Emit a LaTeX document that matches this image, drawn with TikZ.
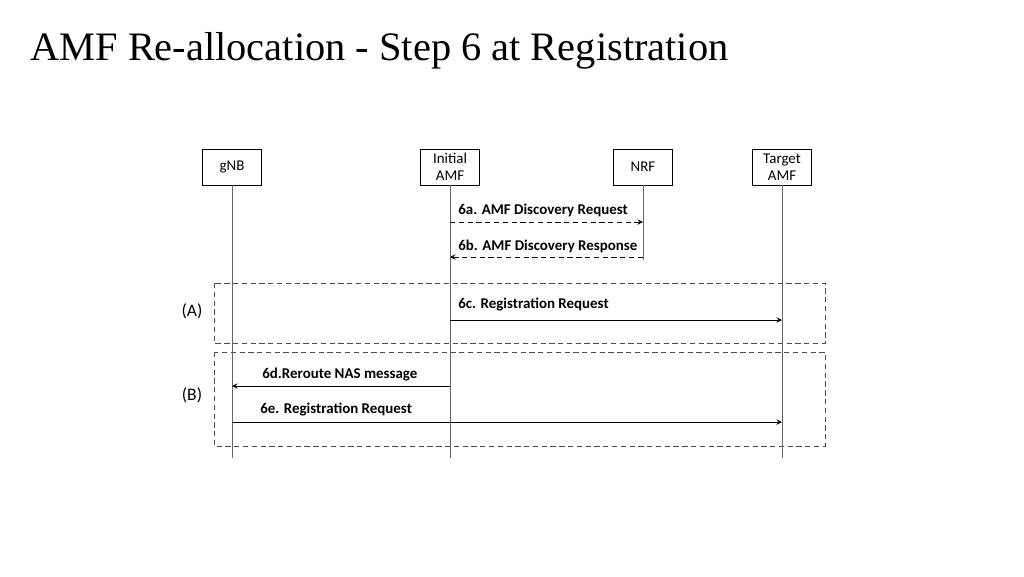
\documentclass[tikz,border=0pt]{standalone}
\usepackage{fontspec}
\setmainfont{Carlito}
\newfontfamily\titlefont{Liberation Serif}
\usetikzlibrary{positioning}
\begin{document}
\begin{tikzpicture}[x=0.02cm,y=-0.02cm,
    entity/.style={draw,fill=white,minimum width=1.18cm,minimum height=0.72cm,inner sep=0pt,align=center,font=\fontsize{8.5}{10}\selectfont},
    life/.style={draw=black!60,thin},
    msg/.style={-stealth,thin},
    reply/.style={-stealth,thin,densely dashed},
    mlabel/.style={font=\bfseries\fontsize{8.5}{10}\selectfont,anchor=west,inner sep=0pt},
    group/.style={draw=black!70,densely dashed,thin}]
  \useasboundingbox (0,0) rectangle (1024,576);
  % title
  \node[anchor=base west,inner sep=0pt,font=\titlefont\fontsize{23}{26}\selectfont] (title) at (30,60) {AMF Re-allocation - Step 6 at Registration};

  % groups
  \draw[group] (214,283) rectangle (825,343);
  \draw[group] (214,352) rectangle (825,446);
  \node[font=\fontsize{10}{12}\selectfont] (ga) at (192,311) {(A)};
  \node[font=\fontsize{10}{12}\selectfont] (gb) at (192,395) {(B)};

  % lifelines
  \coordinate (gnbend) at (232,458);
  \coordinate (iamfend) at (450,458);
  \coordinate (nrfend) at (643,240);
  \coordinate (tamfend) at (782,458);
  \node[entity] (gnb) at (232,167) {gNB};
  \node[entity] (iamf) at (450,167) {Initial\\AMF};
  \node[entity] (nrf) at (643,167) {NRF};
  \node[entity] (tamf) at (782,167) {Target\\AMF};
  \draw[life] (gnb) -- (gnbend);
  \draw[life] (iamf) -- (iamfend);
  \draw[life] (nrf) -- (643,260);
  \draw[life] (tamf) -- (tamfend);

  % messages
  \draw[reply] (450,222) -- (643,222);
  \node[mlabel] (m6a) at (458,210) {6a. AMF Discovery Request};
  \draw[reply] (643,257) -- (450,257);
  \node[mlabel] (m6b) at (458,246) {6b. AMF Discovery Response};
  \draw[msg] (450,320) -- (782,320);
  \node[mlabel] (m6c) at (458,305) {6c. Registration Request};
  \draw[msg] (450,386) -- (232,386);
  \node[mlabel] (m6d) at (262,375) {6d.Reroute NAS message};
  \draw[msg] (232,422) -- (782,422);
  \node[mlabel] (m6e) at (260,410) {6e. Registration Request};
\end{tikzpicture}
\end{document}
